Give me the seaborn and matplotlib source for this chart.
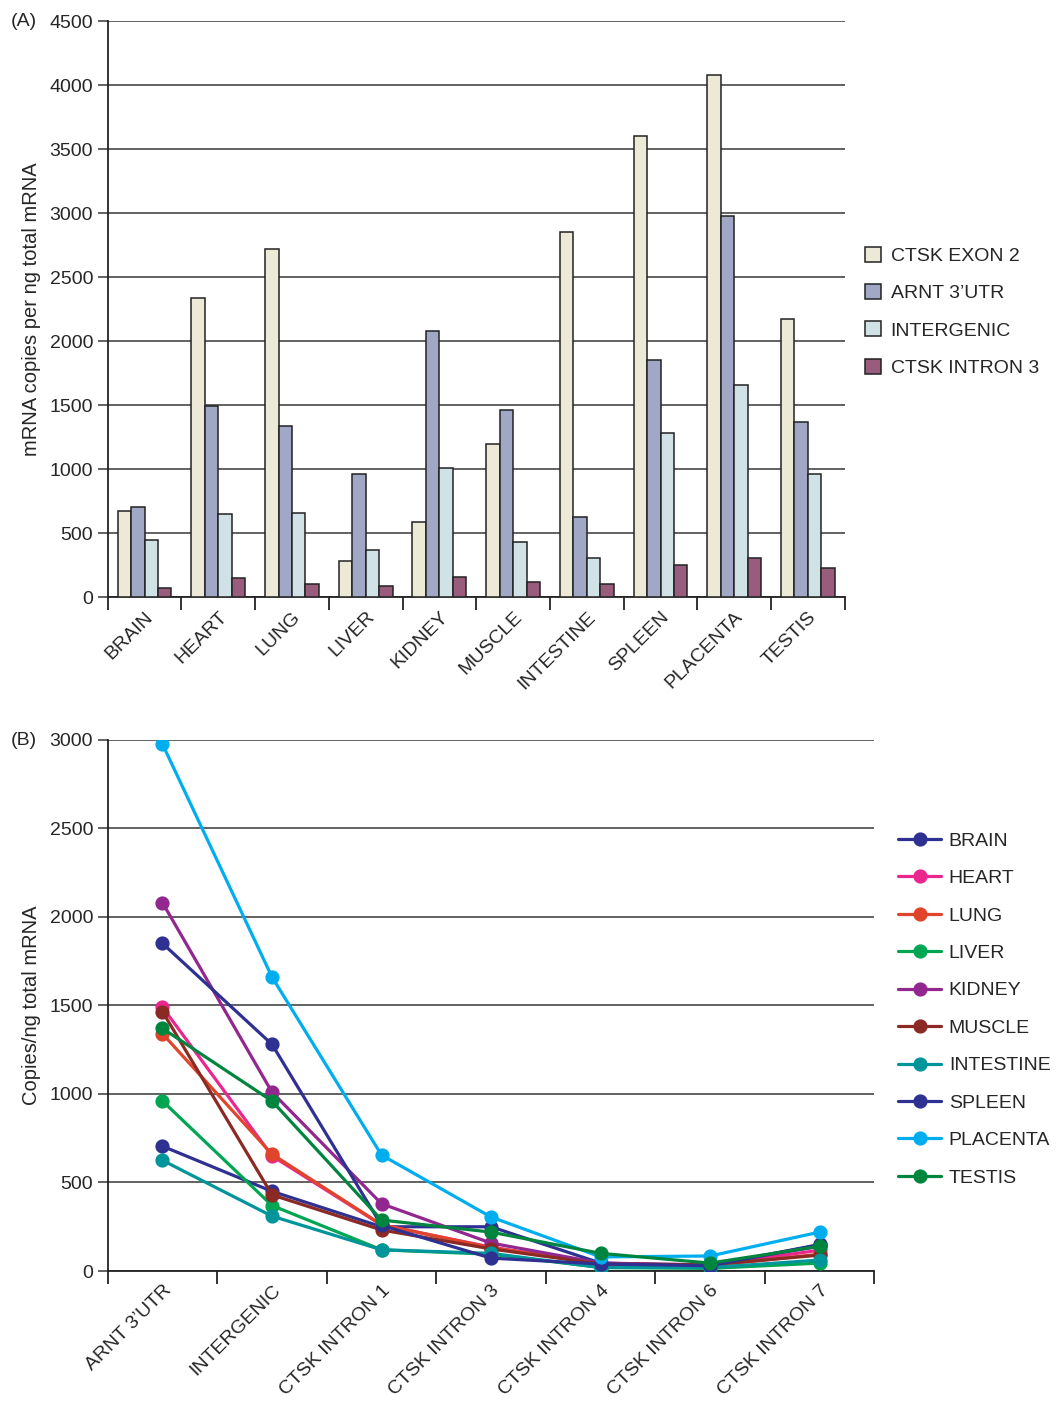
import numpy as np
import pandas as pd
import matplotlib.pyplot as plt
from matplotlib.ticker import FixedLocator, MultipleLocator
import seaborn as sns

# panel A data
tissues = ["BRAIN", "HEART", "LUNG", "LIVER", "KIDNEY", "MUSCLE",
           "INTESTINE", "SPLEEN", "PLACENTA", "TESTIS"]
targets_a = ["CTSK EXON 2", "ARNT 3\u2019UTR", "INTERGENIC", "CTSK INTRON 3"]
exon2 = [670, 2340, 2720, 280, 590, 1200, 2850, 3600, 4080, 2170]
arnt = [705, 1490, 1340, 960, 2080, 1465, 625, 1850, 2975, 1370]
intergenic = [450, 650, 660, 370, 1010, 430, 310, 1280, 1660, 960]
intron3 = [70, 150, 105, 85, 155, 120, 100, 250, 305, 225]
bar_colors = ["#efedd3", "#9aa4cc", "#cde4eb", "#a3527c"]

# panel B data
regions = ["ARNT 3\u2019UTR", "INTERGENIC", "CTSK INTRON 1", "CTSK INTRON 3",
           "CTSK INTRON 4", "CTSK INTRON 6", "CTSK INTRON 7"]
intron1 = [250, 260, 262, 120, 380, 232, 120, 258, 655, 288]
intron3_b = [250, 135, 132, 95, 158, 125, 100, 73, 305, 220]
intron4 = [45, 40, 42, 20, 45, 40, 20, 40, 80, 100]
intron6 = [30, 30, 30, 15, 35, 35, 20, 30, 85, 45]
intron7 = [147, 118, 95, 45, 140, 90, 62, 150, 220, 140]
line_colors = ["#2e3192", "#ec268f", "#e0452b", "#00a651", "#92278f",
               "#8b2a24", "#00959a", "#2e3192", "#00aeef", "#00853e"]

sns.set_style("white")
plt.rcParams["font.family"] = ["Liberation Sans", "DejaVu Sans"]

fig = plt.figure(figsize=(10.56, 14.02), dpi=100)
ax_a = fig.add_axes([0.102, 0.574, 0.698, 0.411])
ax_b = fig.add_axes([0.102, 0.0934, 0.726, 0.379])

grid_kw = dict(color="#555555", linewidth=1.3)

# ---- panel A
df_a = pd.DataFrame({
    "tissue": np.repeat(tissues, 4),
    "target": targets_a * len(tissues),
    "copies": np.array([exon2, arnt, intergenic, intron3]).T.ravel(),
})
sns.barplot(data=df_a, x="tissue", y="copies", hue="target",
            order=tissues, hue_order=targets_a,
            palette=dict(zip(targets_a, bar_colors)),
            edgecolor="#222222", linewidth=1.1, width=0.73,
            ax=ax_a, zorder=3)
ax_a.set_xlim(-0.5, 9.5)
ax_a.set_ylim(0, 4500)
ax_a.yaxis.set_major_locator(MultipleLocator(500))
ax_a.yaxis.grid(True, **grid_kw)
ax_a.set_axisbelow(True)
ax_a.set_xlabel("")
ax_a.set_ylabel("mRNA copies per ng total mRNA", fontsize=14.5, labelpad=6)
h, l = ax_a.get_legend_handles_labels()
ax_a.legend(h, l, loc="center left", bbox_to_anchor=(0.803, 0.7775),
            bbox_transform=fig.transFigure, frameon=False, fontsize=14,
            handlelength=0.8, handleheight=0.8, handletextpad=0.5,
            labelspacing=0.98)

# ---- panel B
rows = []
vals_b = [arnt, intergenic, intron1, intron3_b, intron4, intron6, intron7]
for r, vals in zip(regions, vals_b):
    for t, v in zip(tissues, vals):
        rows.append({"region": r, "tissue": t, "copies": v})
df_b = pd.DataFrame(rows)
sns.pointplot(data=df_b, x="region", y="copies", hue="tissue",
              order=regions, hue_order=tissues,
              palette=dict(zip(tissues, line_colors)),
              errorbar=None, markersize=8.5, linewidth=2.3,
              ax=ax_b, zorder=3)
ax_b.set_xlim(-0.5, 6.5)
ax_b.set_ylim(0, 3000)
ax_b.yaxis.set_major_locator(MultipleLocator(500))
ax_b.yaxis.grid(True, **grid_kw)
ax_b.set_axisbelow(True)
ax_b.set_xlabel("")
ax_b.set_ylabel("Copies/ng total mRNA", fontsize=14.5, labelpad=6)
h, l = ax_b.get_legend_handles_labels()
ax_b.legend(h, l, loc="upper left", bbox_to_anchor=(0.834, 0.419),
            bbox_transform=fig.transFigure, frameon=False, fontsize=14,
            handlelength=2.2, handletextpad=0.4, labelspacing=1.02)

for ax, n in [(ax_a, len(tissues)), (ax_b, len(regions))]:
    for s in ["top", "right"]:
        ax.spines[s].set_visible(False)
    for s in ["left", "bottom"]:
        ax.spines[s].set_color("#222222")
        ax.spines[s].set_linewidth(1.3)
    ax.xaxis.set_minor_locator(FixedLocator(np.arange(n + 1) - 0.5))
    ax.tick_params(axis="x", which="major", length=0, pad=8, labelsize=14)
    ax.tick_params(axis="x", which="minor", length=9, width=1.3,
                   direction="out", color="#222222", bottom=True)
    ax.tick_params(axis="y", which="major", length=7, width=1.3,
                   direction="out", color="#555555", left=True, labelsize=14)
    plt.setp(ax.get_xticklabels(), rotation=45, ha="right",
             rotation_mode="anchor")

fig.text(0.01, 0.985, "(A)", fontsize=14, va="center")
fig.text(0.01, 0.472, "(B)", fontsize=14, va="center")

fig.savefig("out.png", dpi=100)
